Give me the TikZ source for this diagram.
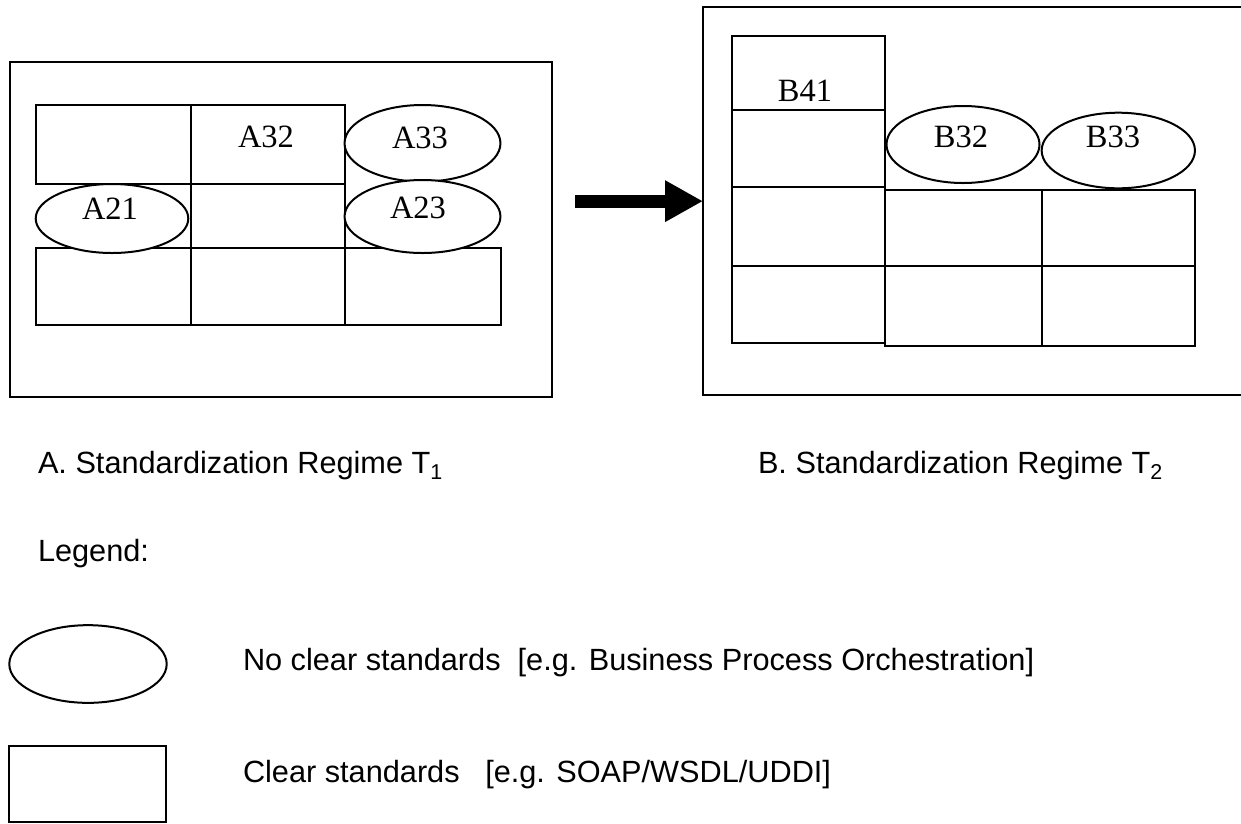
\documentclass[tikz,border=0pt]{standalone}
\usepackage{fontspec}
\setmainfont{Liberation Serif}
\setsansfont{Liberation Sans}
\usetikzlibrary{shapes.geometric,arrows.meta}

\begin{document}
\begin{tikzpicture}[x=1pt,y=-1pt,
  line width=2pt,
  box/.style={draw, rectangle, inner sep=0pt},
  region/.style={rectangle, inner sep=0pt},
  oval/.style={draw, ellipse, inner sep=0pt, fill=white},
  tag/.style={inner sep=0pt, text depth=0pt, font=\fontsize{32.5}{34}\selectfont},
  caption/.style={inner sep=0pt, anchor=base west, font=\sffamily\fontsize{30.7}{33}\selectfont},
  bigarrow/.style={-{Triangle[length=38pt,width=39pt]}, line width=13pt}
]
\useasboundingbox (0,0) rectangle (1241,823);

% ---------- Regime T1 ----------
\node[box, minimum width=542.2pt, minimum height=335pt] (regA) at (280.7,229.2) {};

% row 1
\node[box, minimum width=155pt,   minimum height=79pt] (a31) at (113.2,144.5) {};
\node[box, minimum width=153.9pt, minimum height=79pt] (a32) at (267.65,144.5) {};
% row 2
\node[box, minimum width=153.9pt, minimum height=64.3pt] (a22) at (267.65,216.15) {};
% row 3
\node[box, minimum width=155pt,   minimum height=76.7pt] (a11) at (113.2,286.65) {};
\node[box, minimum width=153.9pt, minimum height=76.7pt] (a12) at (267.65,286.65) {};
\node[box, minimum width=155.9pt, minimum height=76.7pt] (a13) at (422.55,286.65) {};

% open areas
\node[oval, minimum width=155.9pt, minimum height=76.6pt] (a33) at (422.5,143.3) {};
\node[oval, minimum width=155.9pt, minimum height=73pt]   (a23) at (422.5,216.5) {};
\node[oval, minimum width=152.6pt, minimum height=69pt]   (a21) at (112,218.5) {};

\node[tag] (la32) at (266,137) {A32};
\node[tag] (la33) at (420,138) {A33};
\node[tag] (la21) at (110,209) {A21};
\node[tag] (la23) at (418,208) {A23};

% ---------- Regime T2 ----------
\node[region, minimum width=537pt, minimum height=385.7pt] (regB) at (972.5,201.15) {};
\draw (regB.north east) -- (regB.north west) -- (regB.south west) -- (regB.south east);

% first column: four stacked cells
\node[box, minimum width=152.7pt, minimum height=74pt]   (b41) at (808.65,73) {};
\node[box, minimum width=152.7pt, minimum height=76.7pt] (b31) at (808.65,148.35) {};
\node[box, minimum width=152.7pt, minimum height=78.8pt] (b21) at (808.65,226.1) {};
\node[box, minimum width=152.7pt, minimum height=77.5pt] (b11) at (808.65,304.25) {};
% second and third columns
\node[box, minimum width=156.7pt, minimum height=76.5pt] (b22) at (963.35,227.75) {};
\node[box, minimum width=152.8pt, minimum height=76.5pt] (b23) at (1118.1,227.75) {};
\node[box, minimum width=156.7pt, minimum height=79.5pt] (b12) at (963.35,305.75) {};
\node[box, minimum width=152.8pt, minimum height=79.5pt] (b13) at (1118.1,305.75) {};

\node[oval, minimum width=153pt,   minimum height=77pt]   (b32) at (963,144.5) {};
\node[oval, minimum width=153.3pt, minimum height=75.6pt] (b33) at (1118.3,150.5) {};

\node[tag] (lb41) at (805,91) {B41};
\node[tag] (lb32) at (961,137) {B32};
\node[tag] (lb33) at (1113,137) {B33};

% ---------- transition arrow ----------
\coordinate (arrowfrom) at (575,201.15);
\draw[bigarrow] (arrowfrom) -- (regB.west);

% ---------- captions ----------
\node[caption] (capA) at (37,473) {A. Standardization Regime T\textsubscript{1}};
\node[caption] (capB) at (757,473) {B. Standardization Regime T\textsubscript{2}};

% ---------- legend ----------
\node[caption] (legend) at (37,561) {Legend:};
\node[oval, minimum width=157.4pt, minimum height=77.7pt] (keyoval) at (88,664) {};
\node[box, minimum width=156.7pt, minimum height=76pt] (keybox) at (87.7,783.7) {};
\node[caption] (keyovaltext) at (242,670) {No clear standards\ \ [e.g. Business Process Orchestration]};
\node[caption] (keyboxtext) at (242,782) {Clear standards\ \ \ [e.g. SOAP/WSDL/UDDI]};
\end{tikzpicture}
\end{document}
